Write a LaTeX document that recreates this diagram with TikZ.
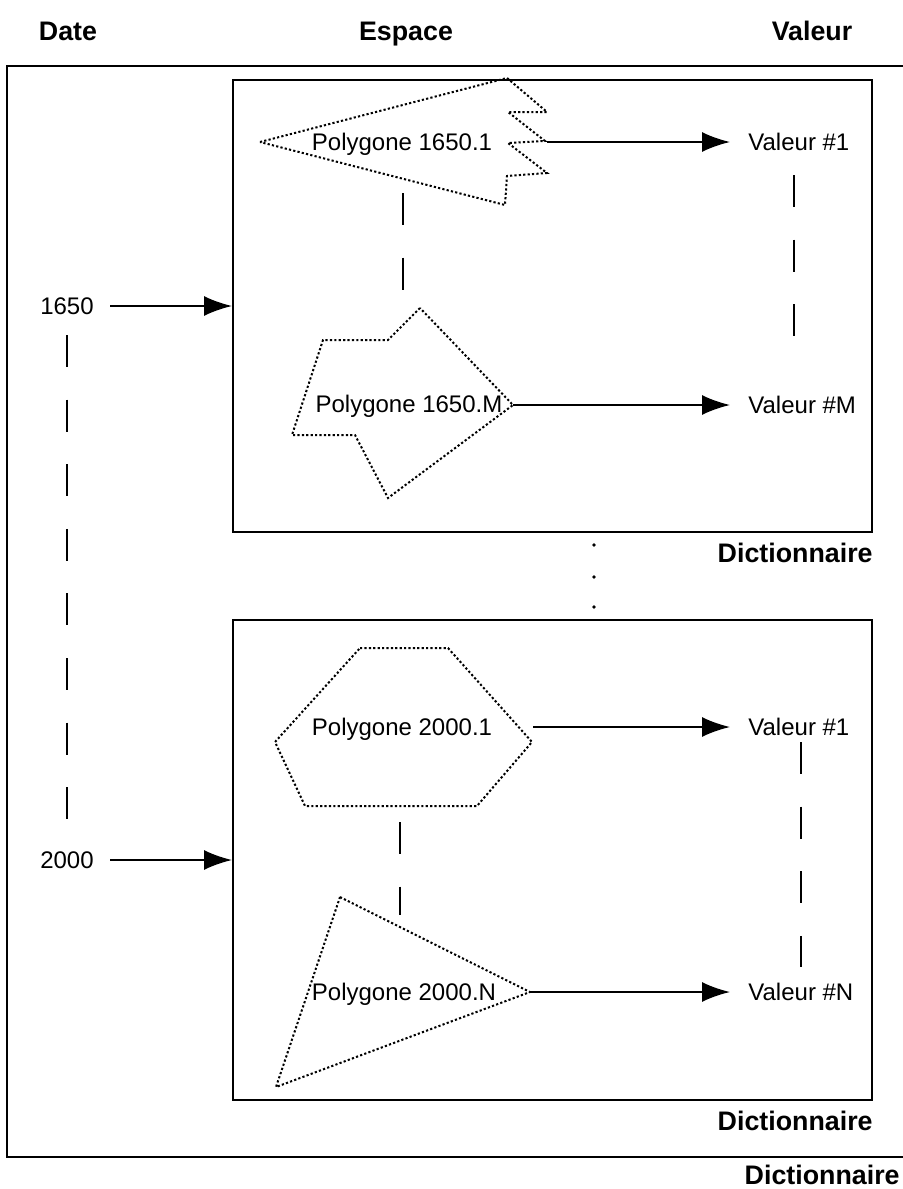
\documentclass[tikz,border=0pt]{standalone}
\usepackage{fontspec}
\setmainfont{Liberation Sans}
\usetikzlibrary{arrows.meta}

\tikzset{
  lbl/.style={inner sep=0pt,text depth=0pt,font=\fontsize{12}{14}\selectfont},
  head/.style={inner sep=0pt,text depth=0pt,font=\bfseries\fontsize{13.4}{16}\selectfont},
  dictbox/.style={draw,line width=1pt,inner sep=0pt},
  poly/.style={line width=1pt,dash pattern=on 1.1pt off 1.1pt},
  timeline/.style={line width=1.3pt,dash pattern=on 16pt off 16.3pt},
  arr/.style={line width=1pt,-{Latex[length=14pt,width=10pt]}}
}

\begin{document}
\begin{tikzpicture}[x=0.5pt,y=-0.5pt]
  \useasboundingbox (0,0) rectangle (902,1189);
  % column headers
  \node[head] (date) at (68,31) {Date};
  \node[head] (espace) at (406,31) {Espace};
  \node[head] (valeur) at (812,31) {Valeur};

  % dictionaries
  \node[dictbox,minimum width=449.5pt,minimum height=545.5pt] (dict0) at (456.5,611.5) {};
  \node[dictbox,minimum width=319.5pt,minimum height=226pt] (dict1) at (552.5,306) {};
  \node[dictbox,minimum width=319.5pt,minimum height=240pt] (dict2) at (552.5,860) {};
  \node[head,anchor=east] (lab0) at (900,1175) {Dictionnaire};
  \node[head,anchor=east] (lab1) at (873,553) {Dictionnaire};
  \node[head,anchor=east] (lab2) at (873,1121) {Dictionnaire};
  \foreach \y in {545,577,607}
    \fill (594,\y) circle (0.9pt);

  % dates
  \node[lbl,inner xsep=8pt] (d1650) at (67,306) {1650};
  \node[lbl,inner xsep=8pt] (d2000) at (67,860) {2000};
  \draw[arr] (d1650.east) -- (d1650 -| dict1.west);
  \draw[arr] (d2000.east) -- (d2000 -| dict2.west);
  \draw[timeline,shorten <=14.5pt,shorten >=20pt] (d1650.center) -- (d2000.center);

  % polygons of 1650
  \draw[poly] (260,142) -- (507,78) -- (547,112) -- (508,112) -- (545,141) -- (508,143)
    -- (547,173) -- (507,176) -- (505,205) -- cycle;
  \coordinate (t11) at (547,142);
  \node[lbl] (p11) at (402,142) {Polygone 1650.1};
  \draw[poly] (420,308) -- (388,340) -- (323,340) -- (292,435) -- (355,435) -- (388,498)
    -- (513,405) -- cycle;
  \coordinate (t1m) at (513,405);
  \node[lbl] (p1m) at (409,404) {Polygone 1650.M};
  \draw[timeline,shorten <=25.5pt,shorten >=56.5pt] ([xshift=0.5pt]p11.center) -- ([xshift=0.5pt]p11.center |- p1m.center);

  % polygons of 2000
  \draw[poly] (360,648) -- (448,648) -- (532,742) -- (477,806) -- (305,806) -- (275,742) -- cycle;
  \coordinate (t21) at (533,727);
  \node[lbl] (p21) at (402,727) {Polygone 2000.1};
  \draw[poly] (340,897) -- (530,992) -- (276,1087) -- cycle;
  \coordinate (t2n) at (530,992);
  \node[lbl] (p2n) at (404,992) {Polygone 2000.N};
  \draw[timeline,shorten <=47.5pt,shorten >=38.5pt] ([xshift=-1pt]p21.center) -- ([xshift=-1pt]p21.center |- p2n.center);

  % values
  \node[lbl,inner xsep=9pt,anchor=west] (v11) at (730,142) {Valeur \#1};
  \node[lbl,inner xsep=9pt,anchor=west] (v1m) at (730,405) {Valeur \#M};
  \node[lbl,inner xsep=9pt,anchor=west] (v21) at (730,727) {Valeur \#1};
  \node[lbl,inner xsep=9pt,anchor=west] (v2n) at (730,992) {Valeur \#N};
  \draw[arr] (t11) -- (v11.west);
  \draw[arr] (t1m) -- (v1m.west);
  \draw[arr] (t21) -- (v21.west);
  \draw[arr] (t2n) -- (v2n.west);
  \draw[timeline,shorten <=16.5pt,shorten >=34pt] ([xshift=-2.5pt]v11.center) -- ([xshift=-2.5pt]v11.center |- v1m.center);
  \draw[timeline,shorten <=7.5pt,shorten >=12.5pt] ([xshift=1pt]v21.center) -- ([xshift=1pt]v21.center |- v2n.center);
\end{tikzpicture}
\end{document}
